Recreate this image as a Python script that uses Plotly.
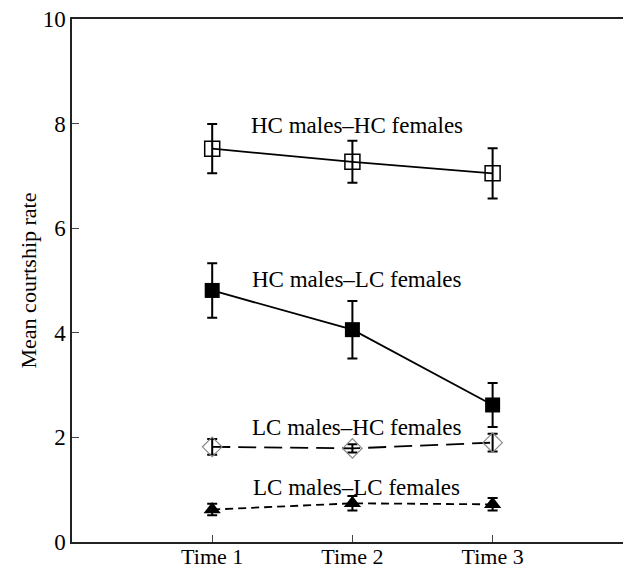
import plotly.graph_objects as go

times = ["Time 1", "Time 2", "Time 3"]
x_pos = [0, 1, 2]

hc_hc = [7.52, 7.27, 7.05]
hc_hc_se = [0.47, 0.40, 0.48]
hc_lc = [4.81, 4.06, 2.62]
hc_lc_se = [0.52, 0.55, 0.42]
lc_hc = [1.82, 1.79, 1.90]
lc_hc_se = [0.15, 0.08, 0.17]
lc_lc = [0.62, 0.74, 0.72]
lc_lc_se = [0.11, 0.14, 0.12]

labels = ["HC males\u2013HC females", "HC males\u2013LC females",
          "LC males\u2013HC females", "LC males\u2013LC females"]
label_y = [7.96, 5.01, 2.18, 1.04]

FONT = "Liberation Serif"
fig = go.Figure()

def err(se):
    return dict(type="data", array=se, visible=True, color="black", thickness=2, width=5)

fig.add_trace(go.Scatter(x=x_pos, y=hc_hc, mode="lines+markers",
    line=dict(color="black", width=1.8),
    marker=dict(symbol="square-open", size=15, color="black", line=dict(width=1.5)),
    error_y=err(hc_hc_se)))
fig.add_trace(go.Scatter(x=x_pos, y=hc_lc, mode="lines+markers",
    line=dict(color="black", width=1.8),
    marker=dict(symbol="square", size=15, color="black"),
    error_y=err(hc_lc_se)))
fig.add_trace(go.Scatter(x=x_pos, y=lc_hc, mode="lines+markers",
    line=dict(color="black", width=1.8, dash="18px,8px"),
    marker=dict(symbol="diamond-open", size=15, color="#888888", line=dict(width=1.2)),
    error_y=err(lc_hc_se)))
fig.add_trace(go.Scatter(x=x_pos, y=lc_lc, mode="lines+markers",
    line=dict(color="black", width=1.8, dash="8px,5px"),
    marker=dict(symbol="triangle-up", size=15, color="black"),
    error_y=err(lc_lc_se)))

for t, yv in zip(labels, label_y):
    fig.add_annotation(x=1.03, y=yv, text=t, showarrow=False,
                       font=dict(family=FONT, size=23, color="black"))

fig.update_layout(
    width=623, height=568,
    margin=dict(l=72, r=0, t=19, b=26, autoexpand=False),
    paper_bgcolor="white", plot_bgcolor="white",
    showlegend=False,
    font=dict(family=FONT, size=22, color="black"),
    xaxis=dict(range=[-1.0, 2.93], tickvals=x_pos, ticktext=times,
               showline=True, linecolor="#222", linewidth=1.5, mirror=True,
               ticks="inside", ticklen=7, tickcolor="#444", tickwidth=1.2,
               showgrid=False, zeroline=False, tickfont=dict(size=22),
               ticklabelstandoff=-6),
    yaxis=dict(range=[0, 10], tickvals=[0, 2, 4, 6, 8, 10],
               showline=True, linecolor="#222", linewidth=1.5,
               ticks="inside", ticklen=7, tickcolor="#444", tickwidth=1.2,
               showgrid=False, zeroline=False, tickfont=dict(size=23),
               title=dict(text="Mean courtship rate", font=dict(size=22), standoff=0)),
)

fig.write_html("out.html", config={"displayModeBar": False},
               post_script="document.body.style.margin='0';document.body.style.overflow='hidden';")
